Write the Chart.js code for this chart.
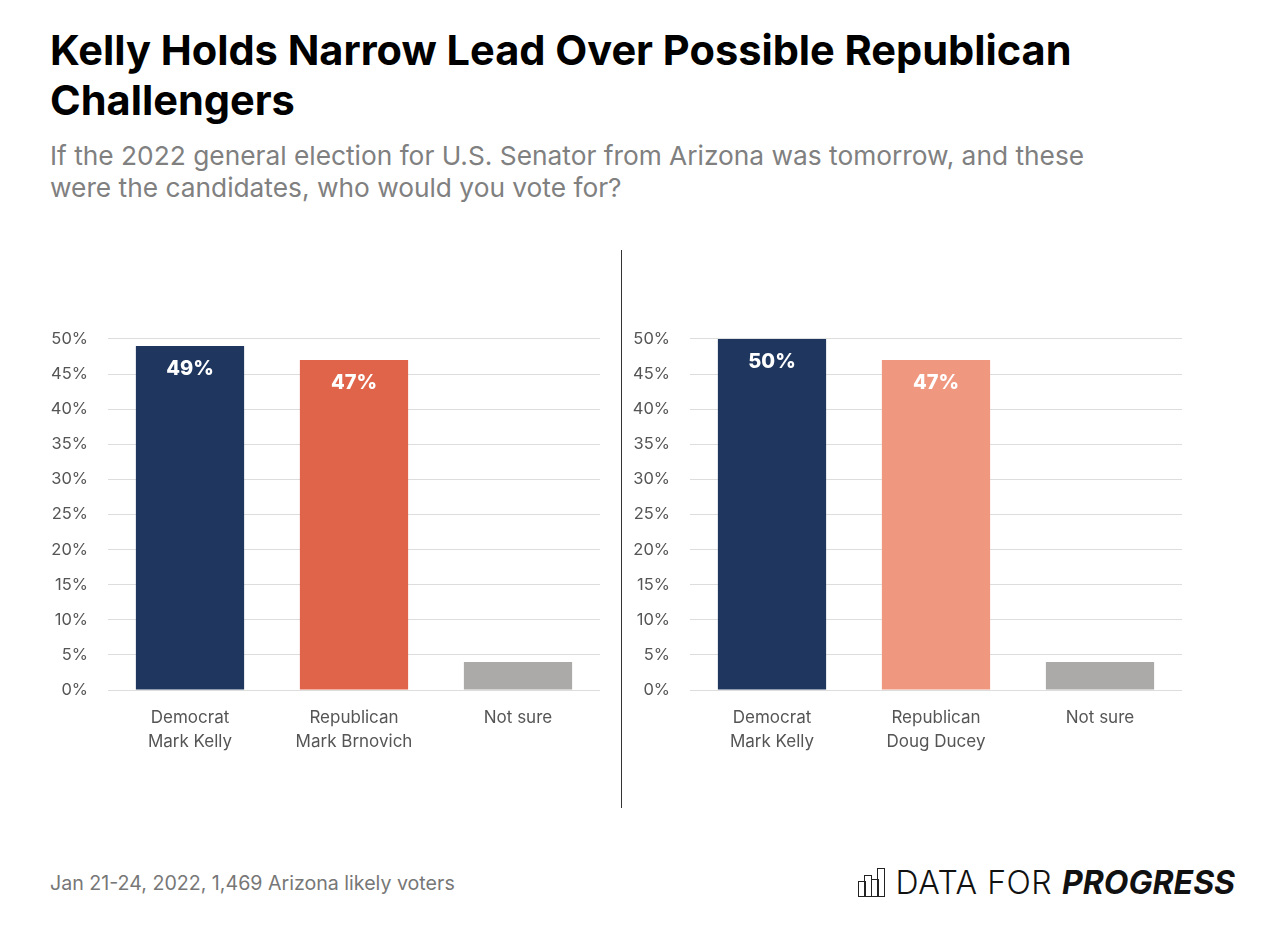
<!DOCTYPE html>
<html>
<head>
<meta charset="utf-8">
<script src="https://cdn.jsdelivr.net/npm/chart.js@4.4.1/dist/chart.umd.min.js"></script>
<style>
  body { margin: 0; background: #fff; width: 1264px; height: 928px; position: relative; overflow: hidden; font-family: Inter, "Open Sans", sans-serif; }
  .line { position: absolute; left: 50px; white-space: nowrap; }
  .title { font-size: 36px; line-height: 50px; font-weight: 700; color: #000; }
  .sub { font-size: 22px; line-height: 32px; color: #808080; }
  #footer { position: absolute; left: 50px; top: 872px; font-size: 17px; line-height: 22px; color: #777; white-space: nowrap; }
  #divider { position: absolute; left: 621px; top: 250px; width: 1px; height: 558px; background: #333; z-index: 2; }
  canvas { position: absolute; }
  #leftChart { left: 30px; top: 309px; }
  #rightChart { left: 612px; top: 309px; }
  #logo { position: absolute; right: 29px; top: 864px; display: flex; align-items: flex-end; font-size: 32px; line-height: 38px; color: #111; }
  #logo .icon { display: flex; align-items: flex-end; margin-right: 12px; margin-bottom: 5px; }
  #logo .icon span { display: block; width: 6px; border: 1.5px solid #222; margin-right: -1.5px; }
  #logo .thin { font-weight: 300; letter-spacing: 0.5px; }
  #logo .bold { font-weight: 700; font-style: italic; margin-left: 10px; }
</style>
</head>
<body>
<div class="line title" style="top:25px" data-w="1022">Kelly Holds Narrow Lead Over Possible Republican</div>
<div class="line title" style="top:75px">Challengers</div>
<div class="line sub" style="top:140px" data-w="1035">If the 2022 general election for U.S. Senator from Arizona was tomorrow, and these</div>
<div class="line sub" style="top:172px">were the candidates, who would you vote for?</div>
<canvas id="leftChart" width="570" height="451"></canvas>
<canvas id="rightChart" width="570" height="451"></canvas>
<div id="divider"></div>
<div id="footer" data-w="405">Jan 21-24, 2022, 1,469 Arizona likely voters</div>
<div id="logo">
  <div class="icon"><span style="height:14px"></span><span style="height:20px"></span><span style="height:16px"></span><span style="height:27px"></span></div>
  <span class="thin">DATA FOR</span><span class="bold">PROGRESS</span>
</div>
<script>
// chart values
const categoriesLeft = [['Democrat', 'Mark Kelly'], ['Republican', 'Mark Brnovich'], ['Not sure']];
const valuesLeft = [49, 47, 4];
const colorsLeft = ['#1f365e', '#e0644a', '#acaaa8'];

const categoriesRight = [['Democrat', 'Mark Kelly'], ['Republican', 'Doug Ducey'], ['Not sure']];
const valuesRight = [50, 47, 4];
const colorsRight = ['#1f365e', '#f0977f', '#acaaa8'];

// which bars get a value label
const showLabel = [true, true, false];

const yMax = 50;
const yStep = 5;

const FONT = 'Inter, "Open Sans", sans-serif';

//Scale text lines so they span the same width as in the original
document.querySelectorAll('[data-w]').forEach(el => {
  const target = +el.dataset.w;
  const size = parseFloat(getComputedStyle(el).fontSize);
  const k = target / el.getBoundingClientRect().width;
  const newSize = size * k;
  el.style.fontSize = newSize + 'px';
  // apply same size to sibling lines of same class
  if (el.classList.contains('title')) document.querySelectorAll('.title').forEach(t => t.style.fontSize = newSize + 'px');
  if (el.classList.contains('sub')) document.querySelectorAll('.sub').forEach(t => t.style.fontSize = newSize + 'px');
});

//Draws the white value labels inside the bars
const barLabels = {
  id: 'barLabels',
  afterDatasetsDraw(chart) {
    const ctx = chart.ctx;
    const meta = chart.getDatasetMeta(0);
    const values = chart.data.datasets[0].data;
    ctx.save();
    ctx.fillStyle = '#fff';
    ctx.font = '800 20px ' + FONT;
    ctx.textAlign = 'center';
    ctx.textBaseline = 'middle';
    meta.data.forEach((bar, i) => {
      if (!showLabel[i]) return;
      ctx.fillText(values[i] + '%', bar.x, bar.y + 23);
    });
    ctx.restore();
  }
};

const buildChart = (id, labels, values, colors) => {
  const ctx = document.getElementById(id).getContext('2d');
  return new Chart(ctx, {
    type: 'bar',
    data: {
      labels: labels,
      datasets: [{
        data: values,
        backgroundColor: colors,
        barPercentage: 0.66,
        categoryPercentage: 1.0,
      }],
    },
    options: {
      responsive: false,
      animation: false,
      layout: { padding: { top: 6, right: 0, left: 0, bottom: 0 } },
      plugins: { legend: { display: false }, tooltip: { enabled: false } },
      scales: {
        x: {
          grid: { display: false },
          border: { display: false },
          ticks: { color: '#555', font: { size: 17, family: FONT, lineHeight: 1.4 }, padding: 8 },
          afterFit: (scale) => { scale.height = 70; },
        },
        y: {
          min: 0,
          max: yMax,
          grid: { color: '#dddddd', drawTicks: false },
          border: { display: false },
          ticks: {
            stepSize: yStep,
            padding: 20,
            color: '#555',
            font: { size: 16.5, family: FONT },
            callback: (v) => v + '%',
          },
          afterFit: (scale) => { scale.width = 78; },
        },
      },
    },
    plugins: [barLabels],
  });
};

buildChart('leftChart', categoriesLeft, valuesLeft, colorsLeft);
buildChart('rightChart', categoriesRight, valuesRight, colorsRight);
</script>
</body>
</html>
